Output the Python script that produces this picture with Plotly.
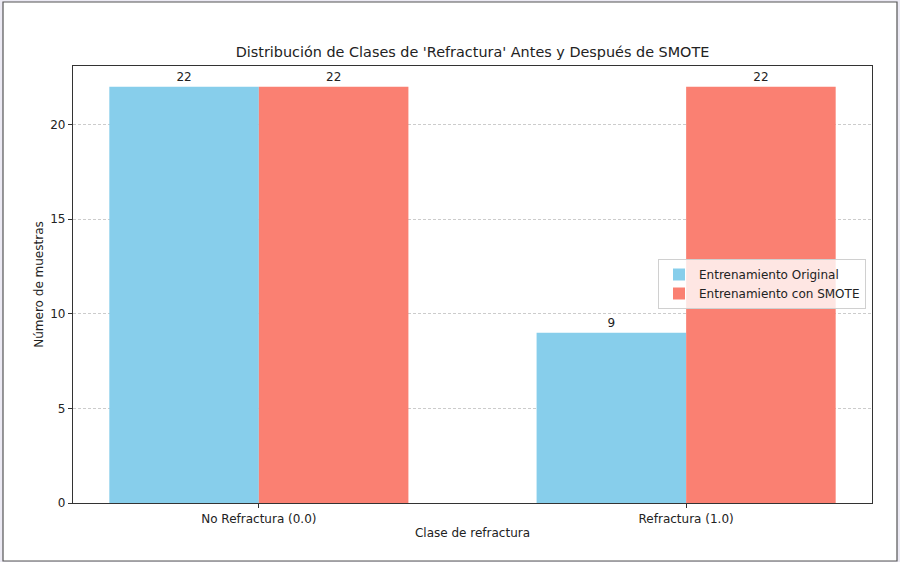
import plotly.graph_objects as go

categories = ["No Refractura (0.0)", "Refractura (1.0)"]
original_counts = [22, 9]
smote_counts = [22, 22]
series_names = ["Entrenamiento Original", "Entrenamiento con SMOTE"]
y_ticks = [0, 5, 10, 15, 20]

FONT = "DejaVu Sans"
FS = 12
W, H = 900, 562
ML, MR, MT, MB = 73, 28, 66, 59
pw, ph = W - ML - MR, H - MT - MB

fig = go.Figure()
fig.add_trace(go.Bar(
    x=categories, y=original_counts, name=series_names[0],
    marker=dict(color="#87ceeb", line=dict(width=0)),
    text=[str(v) for v in original_counts], textposition="outside",
    textfont=dict(family=FONT, size=FS, color="#222"), cliponaxis=False,
))
fig.add_trace(go.Bar(
    x=categories, y=smote_counts, name=series_names[1],
    marker=dict(color="#fa8072", line=dict(width=0)),
    text=[str(v) for v in smote_counts], textposition="outside",
    textfont=dict(family=FONT, size=FS, color="#222"), cliponaxis=False,
))

def px_x(p):
    return (p - ML) / pw

def px_y(p):
    return (H - MB - p) / ph

fig.update_layout(
    width=W, height=H,
    margin=dict(l=ML, r=MR, t=MT, b=MB),
    paper_bgcolor="#eceaf4",
    plot_bgcolor="white",
    barmode="group", bargap=0.3, bargroupgap=0,
    font=dict(family=FONT, size=FS, color="#222"),
    title=dict(text="Distribución de Clases de 'Refractura' Antes y Después de SMOTE",
               x=0.5, xref="paper", xanchor="center",
               y=1 - 52 / H, yanchor="middle",
               font=dict(family=FONT, size=14.4, color="#222")),
    legend=dict(x=px_x(866), y=px_y(284), xanchor="right", yanchor="middle",
                bgcolor="rgba(255,255,255,0.8)", bordercolor="#d0d0d0", borderwidth=1,
                font=dict(family=FONT, size=FS, color="#222"),
                tracegroupgap=0),
    showlegend=True,
    shapes=[dict(type="rect", xref="paper", yref="paper",
                 x0=px_x(3), x1=px_x(897), y0=px_y(561), y1=px_y(2),
                 fillcolor="white", line=dict(color="#555", width=1.2), layer="below")],
)
fig.update_xaxes(
    range=[-0.435, 1.435], showline=True, mirror=True, linecolor="#333", linewidth=1.2,
    ticks="outside", ticklen=4, tickcolor="#333", showgrid=False,
    title=dict(text="Clase de refractura", font=dict(family=FONT, size=FS, color="#222"), standoff=4),
    tickfont=dict(family=FONT, size=FS, color="#222"),
)
fig.update_yaxes(
    range=[0, 23.1], tickvals=y_ticks, showline=True, mirror=True, linecolor="#333", linewidth=1.2,
    ticks="outside", ticklen=4, tickcolor="#333",
    showgrid=True, gridcolor="#cccccc", griddash="3px,2px", gridwidth=1, zeroline=False,
    title=dict(text="Número de muestras", font=dict(family=FONT, size=FS, color="#222"), standoff=4),
    tickfont=dict(family=FONT, size=FS, color="#222"),
)

fig.write_html(
    "out.html",
    config={"displayModeBar": False},
    post_script="document.body.style.margin='0';document.body.style.overflow='hidden';",
)
